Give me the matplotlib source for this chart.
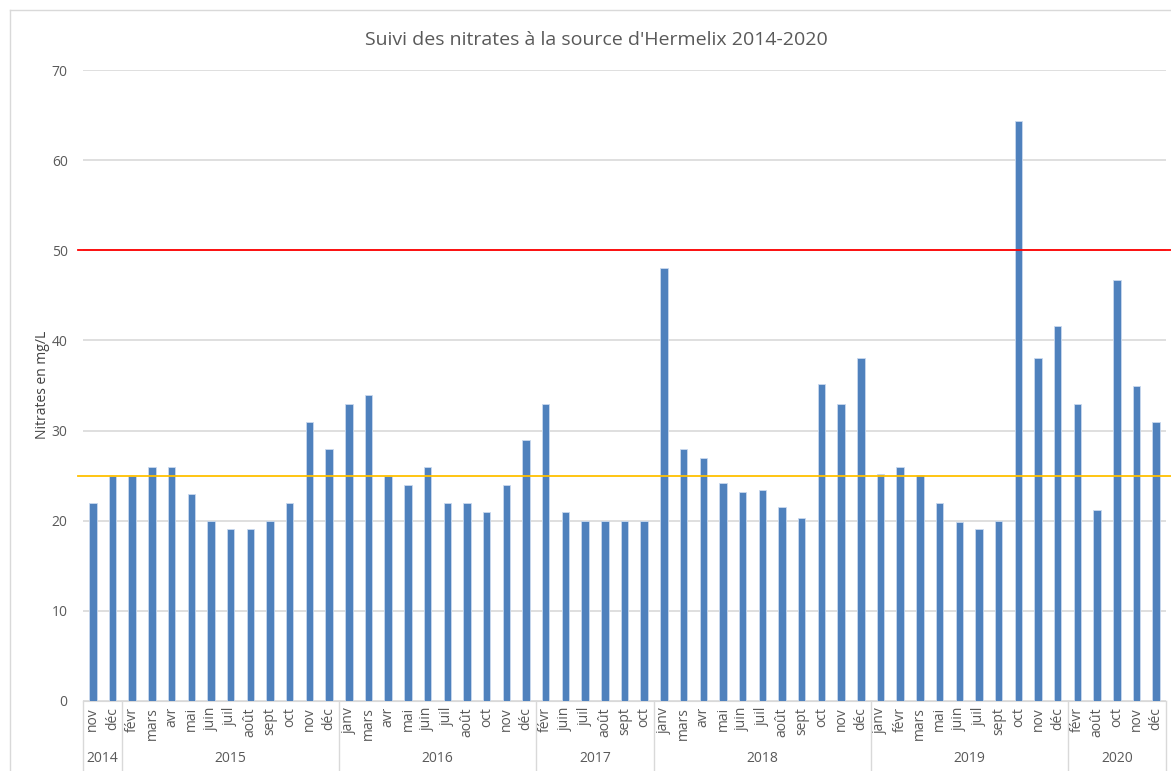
import numpy as np
import matplotlib.pyplot as plt
from matplotlib.lines import Line2D
import matplotlib.transforms as mtransforms

plt.rcParams['font.family'] = ['Open Sans', 'DejaVu Sans']

# Data
years = ['2014', '2015', '2016', '2017', '2018', '2019', '2020']
months_2014 = ['nov', 'déc']
months_2015 = ['févr', 'mars', 'avr', 'mai', 'juin', 'juil', 'août', 'sept', 'oct', 'nov', 'déc']
months_2016 = ['janv', 'mars', 'avr', 'mai', 'juin', 'juil', 'août', 'oct', 'nov', 'déc']
months_2017 = ['févr', 'juin', 'juil', 'août', 'sept', 'oct']
months_2018 = ['janv', 'mars', 'avr', 'mai', 'juin', 'juil', 'août', 'sept', 'oct', 'nov', 'déc']
months_2019 = ['janv', 'févr', 'mars', 'mai', 'juin', 'juil', 'sept', 'oct', 'nov', 'déc']
months_2020 = ['févr', 'août', 'oct', 'nov', 'déc']

nitrates_2014 = [22, 25]
nitrates_2015 = [25, 26, 26, 23, 20, 19.1, 19.1, 20, 22, 31, 28]
nitrates_2016 = [33, 34, 25, 24, 26, 22, 22, 21, 24, 29]
nitrates_2017 = [33, 21, 20, 20, 20, 20]
nitrates_2018 = [48, 28, 27, 24.2, 23.2, 23.4, 21.5, 20.3, 35.2, 33, 38]
nitrates_2019 = [25.2, 26, 25.1, 22, 19.9, 19.1, 20, 64.3, 38, 41.6]
nitrates_2020 = [33, 21.2, 46.7, 35, 31]

limit_max = 50      # red line
limit_guide = 25    # orange line

month_groups = [months_2014, months_2015, months_2016, months_2017,
                months_2018, months_2019, months_2020]
value_groups = [nitrates_2014, nitrates_2015, nitrates_2016, nitrates_2017,
                nitrates_2018, nitrates_2019, nitrates_2020]

months = [m for g in month_groups for m in g]
values = [v for g in value_groups for v in g]
x = np.arange(len(values))

W, H = 1171, 771
fig = plt.figure(figsize=(W / 100, H / 100), dpi=100)

# Outer chart border (light gray, cropped on right/bottom)
fig.add_artist(Line2D([10 / W, 1], [1 - 10 / H, 1 - 10 / H], color='#D9D9D9', lw=1))
fig.add_artist(Line2D([10 / W, 10 / W], [0, 1 - 10 / H], color='#D9D9D9', lw=1))

left, right, top, bottom = 83, 1166, 70, 701
ax = fig.add_axes([left / W, 1 - bottom / H, (right - left) / W, (bottom - top) / H])

ax.bar(x, values, width=0.38, color='#4F81BD', edgecolor='#C9D9EE', linewidth=0.6, zorder=3)

ax.set_xlim(-0.5, len(values) - 0.5)
ax.set_ylim(0, 70)
ax.set_yticks(range(0, 71, 10))
ax.yaxis.grid(True, color='#D9D9D9', lw=1.2)
ax.set_axisbelow(True)
for s in ['top', 'right', 'left']:
    ax.spines[s].set_visible(False)
ax.spines['bottom'].set_color('#D9D9D9')
ax.tick_params(axis='y', length=0, labelsize=10, labelcolor='#595959', pad=11)
ax.tick_params(axis='x', length=0, labelbottom=False)

# Reference lines
xl = (78 - left) / (right - left)
xr = (W - left) / (right - left)
ax.axhline(limit_max, xmin=xl, xmax=xr, color='#FF0000', lw=1.3, clip_on=False, zorder=4)
ax.axhline(limit_guide, xmin=xl, xmax=xr, color='#FFC000', lw=1.3, clip_on=False, zorder=4)

# Two-level category axis
trans = mtransforms.blended_transform_factory(ax.transData, fig.transFigure)
for xi, m in zip(x, months):
    ax.text(xi, 1 - 707 / H, m, transform=trans, rotation=90, ha='center', va='top',
            fontsize=10, color='#595959')

start = 0
bounds = [-0.5]
for yr, g in zip(years, month_groups):
    end = start + len(g)
    ax.text((start + end - 1) / 2, 1 - 759 / H, yr, transform=trans, ha='center', va='center',
            fontsize=10, color='#595959')
    bounds.append(end - 0.5)
    start = end
for b in bounds:
    ax.add_artist(Line2D([b, b], [0, 1 - bottom / H], transform=trans, color='#D9D9D9',
                         lw=1, clip_on=False))

fig.text(42 / W, 1 - 385 / H, 'Nitrates en mg/L', rotation=90, ha='center', va='center',
         fontsize=10, color='#404040')
fig.text(596 / W, 1 - 40 / H, "Suivi des nitrates à la source d'Hermelix 2014-2020",
         ha='center', va='center', fontsize=14, color='#595959')

fig.savefig('out.png', dpi=100)
